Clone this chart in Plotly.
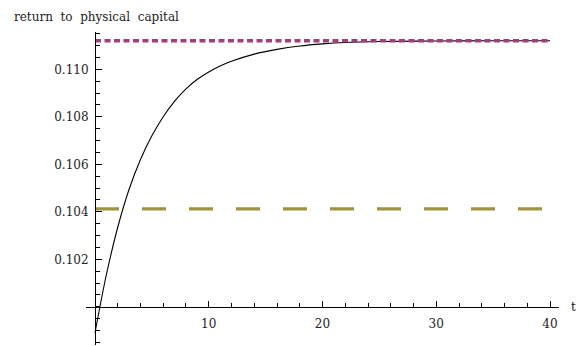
import plotly.graph_objects as go

# Return to physical capital along the transition path
t_path = [0, 1, 2, 3, 4, 5, 6, 7, 8, 9, 10, 11, 12, 14, 16, 18, 20, 22, 25, 30, 35, 40]
r_path = [0.0989, 0.10135, 0.10335, 0.10495, 0.1062, 0.1072, 0.108, 0.10866, 0.10918,
          0.10958, 0.10989, 0.11014, 0.11034, 0.11064, 0.11084, 0.11098, 0.11107,
          0.11113, 0.11117, 0.11119, 0.1112, 0.1112]

# Steady-state reference levels
t_flat = [0, 40]
r_high = [0.1112, 0.1112]
r_low = [0.10412, 0.10412]

x_ticks = [10, 20, 30, 40]
y_ticks = [0.102, 0.104, 0.106, 0.108, 0.110]
x_minor = [2, 4, 6, 8, 12, 14, 16, 18, 22, 24, 26, 28, 32, 34, 36, 38]
y_minor = [0.0985 + 0.0005 * i for i in range(27)]

x_range = [-0.79, 40.79]
y_range = [0.098392, 0.111571]

fig = go.Figure()
fig.add_trace(go.Scatter(x=t_path, y=r_path, mode="lines", line_shape="spline",
                         line=dict(color="black", width=1.1), hoverinfo="skip"))
fig.add_trace(go.Scatter(x=t_flat, y=r_low, mode="lines",
                         line=dict(color="#9e9142", width=3.2, dash="24px,23px"), hoverinfo="skip"))
fig.add_trace(go.Scatter(x=t_flat, y=r_high, mode="lines",
                         line=dict(color="#a0407a", width=3.5, dash="6px,3.5px"), hoverinfo="skip"))

serif = "DejaVu Serif"
font = dict(family=serif, size=12, color="#222")

fig.update_layout(
    width=583, height=346,
    margin=dict(l=86, r=24, t=32, b=1),
    paper_bgcolor="white", plot_bgcolor="white",
    showlegend=False,
    font=font,
    xaxis=dict(range=x_range, showgrid=False, zeroline=False,
               showline=True, linecolor="black", linewidth=1,
               anchor="free", position=(0.1 - y_range[0]) / (y_range[1] - y_range[0]),
               tickmode="array", tickvals=x_ticks, ticktext=[str(v) for v in x_ticks],
               ticks="inside", ticklen=6, tickcolor="black", tickwidth=1,
               ticklabelstandoff=6,
               minor=dict(tickmode="array", tickvals=x_minor, ticks="inside",
                          ticklen=4, tickcolor="black", tickwidth=1),
               tickfont=font),
    yaxis=dict(range=y_range, showgrid=False, zeroline=False,
               showline=True, linecolor="black", linewidth=1,
               anchor="free", position=(0 - x_range[0]) / (x_range[1] - x_range[0]),
               tickmode="array", tickvals=y_ticks, ticktext=["%.3f" % v for v in y_ticks],
               ticks="inside", ticklen=6, tickcolor="black", tickwidth=1,
               ticklabelstandoff=4,
               minor=dict(tickmode="array", tickvals=y_minor, ticks="inside",
                          ticklen=4, tickcolor="black", tickwidth=1),
               tickfont=font),
    annotations=[
        dict(text="return  to  physical  capital", xref="paper", yref="paper",
             x=-74 / 473, y=1 + 15 / 313, xanchor="left", yanchor="middle",
             showarrow=False, font=font),
        dict(text="t", xref="paper", yref="y", x=1 + 14 / 473, y=0.1,
             xanchor="center", yanchor="middle", showarrow=False, font=font),
    ],
)

fig.write_html("out.html")
